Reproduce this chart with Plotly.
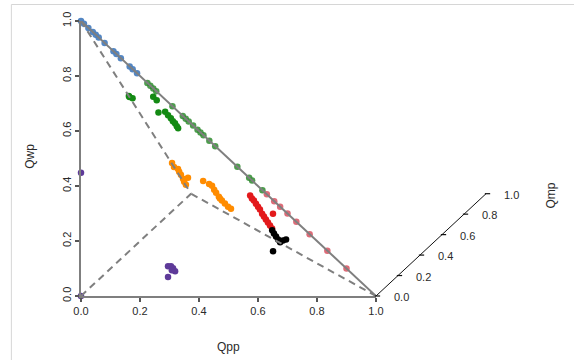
import plotly.graph_objects as go

# Page offset of one unit along the depth (Qmp) axis, in units of the Qpp / Qwp axes
DEPTH_X = 0.373
DEPTH_Y = 0.372


def project(qpp, qwp, qmp):
    """Oblique projection of (Qpp, Qwp, Qmp) onto the page plane."""
    x = [p + DEPTH_X * m for p, m in zip(qpp, qmp)]
    y = [w + DEPTH_Y * m for w, m in zip(qwp, qmp)]
    return x, y


# ---- data -------------------------------------------------------------
# points on the Qpp-Qwp edge (Qmp = 0)
blue_qpp = [0.00, 0.01, 0.025, 0.04, 0.05, 0.06, 0.08, 0.11, 0.12, 0.135, 0.165, 0.175, 0.19]
blue_qwp = [1.00, 0.99, 0.975, 0.96, 0.95, 0.94, 0.92, 0.89, 0.88, 0.865, 0.835, 0.825, 0.81]
blue_qmp = [0, 0, 0, 0, 0, 0, 0, 0, 0, 0, 0, 0, 0]

green_edge_qpp = [0.225, 0.235, 0.245, 0.255, 0.31, 0.345, 0.355, 0.365, 0.38,
                  0.395, 0.405, 0.415, 0.435, 0.455, 0.53, 0.57, 0.58, 0.615]
green_edge_qwp = [0.775, 0.765, 0.755, 0.745, 0.69, 0.655, 0.645, 0.635, 0.62,
                  0.605, 0.595, 0.585, 0.565, 0.545, 0.47, 0.43, 0.42, 0.385]
green_edge_qmp = [0, 0, 0, 0, 0, 0, 0, 0, 0, 0, 0, 0, 0, 0, 0, 0, 0, 0]

red_edge_qpp = [0.63, 0.655, 0.675, 0.70, 0.73, 0.775, 0.835, 0.90]
red_edge_qwp = [0.37, 0.345, 0.325, 0.30, 0.27, 0.225, 0.165, 0.10]
red_edge_qmp = [0, 0, 0, 0, 0, 0, 0, 0]

# interior points
green_qpp = [0.00, 0.00, 0.02, 0.20, 0.21, 0.16, 0.22, 0.225, 0.233, 0.234, 0.241, 0.24, 0.24]
green_qwp = [0.565, 0.56, 0.565, 0.68, 0.665, 0.565, 0.605, 0.587, 0.575, 0.558, 0.551, 0.533, 0.521]
green_qmp = [0.435, 0.44, 0.415, 0.12, 0.125, 0.275, 0.175, 0.188, 0.192, 0.208, 0.208, 0.227, 0.239]

orange_qpp = [0.005, 0.000, 0.023, 0.016, 0.016, 0.012, 0.005, 0.005, 0.059, 0.169,
              0.203, 0.217, 0.213, 0.214, 0.217, 0.215, 0.221, 0.230, 0.240, 0.254]
orange_qwp = [0.181, 0.155, 0.157, 0.136, 0.119, 0.093, 0.072, 0.055, 0.127, 0.174,
              0.177, 0.174, 0.149, 0.132, 0.111, 0.099, 0.091, 0.079, 0.067, 0.064]
orange_qmp = [0.814, 0.845, 0.820, 0.849, 0.865, 0.895, 0.924, 0.940, 0.814, 0.657,
              0.620, 0.609, 0.639, 0.654, 0.671, 0.686, 0.688, 0.691, 0.693, 0.682]

red_qpp = [0.482, 0.482, 0.488, 0.489, 0.490, 0.491, 0.487, 0.487, 0.488, 0.489, 0.490, 0.491, 0.578]
red_qwp = [0.274, 0.257, 0.249, 0.232, 0.215, 0.199, 0.173, 0.156, 0.140, 0.123, 0.106, 0.089, 0.227]
red_qmp = [0.245, 0.261, 0.263, 0.279, 0.295, 0.310, 0.340, 0.357, 0.372, 0.388, 0.404, 0.420, 0.195]

black_qpp = [0.481, 0.481, 0.482, 0.483, 0.484, 0.519, 0.550, 0.488]
black_qwp = [0.072, 0.055, 0.038, 0.021, 0.005, 0.037, 0.061, 0.000]
black_qmp = [0.448, 0.464, 0.480, 0.496, 0.512, 0.444, 0.389, 0.437]

purple_qpp = [0.295, 0.305, 0.312, 0.319, 0.308, 0.295, 0.0, 0.0]
purple_qwp = [0.108, 0.108, 0.101, 0.090, 0.094, 0.069, 0.448, 0.0]
purple_qmp = [0, 0, 0, 0, 0, 0, 0, 0]

axis_ticks = [0.0, 0.2, 0.4, 0.6, 0.8, 1.0]
axis_tick_text = ["0.0", "0.2", "0.4", "0.6", "0.8", "1.0"]

# simplex vertices (Qpp, Qwp, Qmp)
edge_start_qpp = [0.0, 1.0, 0.0]
edge_start_qwp = [1.0, 0.0, 0.0]
apex = (0.0, 0.0, 1.0)

# ---- styling ------------------------------------------------------------
FONT = "Liberation Sans, Arial, sans-serif"
TXT = "#2a2a2a"
GRAY = "#7f7f7f"

groups = [
    (blue_qpp, blue_qwp, blue_qmp, "#4a7fc0", 0.95),
    (green_edge_qpp, green_edge_qwp, green_edge_qmp, "#2e8b2e", 0.85),
    (red_edge_qpp, red_edge_qwp, red_edge_qmp, "#d23a4a", 0.75),
    (green_qpp, green_qwp, green_qmp, "#138a13", 1.0),
    (orange_qpp, orange_qwp, orange_qmp, "#ff8c00", 1.0),
    (red_qpp, red_qwp, red_qmp, "#e31a1c", 1.0),
    (black_qpp, black_qwp, black_qmp, "#000000", 1.0),
    (purple_qpp, purple_qwp, purple_qmp, "#5e3a99", 1.0),
]

fig = go.Figure()

for qpp, qwp, qmp, color, alpha in groups:
    x, y = project(qpp, qwp, qmp)
    fig.add_trace(go.Scatter(
        x=x, y=y, mode="markers", cliponaxis=False, showlegend=False,
        marker=dict(size=6.5, color=color, opacity=alpha, line=dict(width=0)),
    ))

# dashed edges running back to the Qmp vertex
ax, ay = project([apex[0]], [apex[1]], [apex[2]])
for sp, sw in zip(edge_start_qpp, edge_start_qwp):
    sx, sy = project([sp], [sw], [0.0])
    fig.add_trace(go.Scatter(
        x=[sx[0], ax[0]], y=[sy[0], ay[0]], mode="lines", showlegend=False,
        line=dict(color=GRAY, width=2, dash="7px,5px"),
    ))

# solid Qpp-Qwp edge
hx, hy = project([0.0, 1.0], [1.0, 0.0], [0.0, 0.0])
fig.add_trace(go.Scatter(
    x=hx, y=hy, mode="lines", showlegend=False, cliponaxis=False,
    line=dict(color=GRAY, width=2),
))

# ---- depth axis (Qmp), drawn at Qpp = 1, Qwp = 0 ---------------------------
shapes = []
bx, by = project([1.0] * len(axis_ticks), [0.0] * len(axis_ticks), axis_ticks)
shapes.append(dict(type="line", xref="paper", yref="paper",
                   x0=bx[0], y0=by[0], x1=bx[-1], y1=by[-1],
                   line=dict(color="#111111", width=1)))
annotations = []
for tx, ty, lab in zip(bx, by, axis_tick_text):
    shapes.append(dict(type="line", xref="paper", yref="paper",
                       x0=tx - 0.004, y0=ty, x1=tx + 0.014, y1=ty,
                       line=dict(color="#111111", width=1.2)))
    annotations.append(dict(x=tx + 0.088, y=ty - 0.004, xref="paper", yref="paper",
                            text=lab, showarrow=False, xanchor="center", yanchor="middle",
                            font=dict(family=FONT, size=11, color=TXT)))
annotations.append(dict(x=1.593, y=0.365, xref="paper", yref="paper", text="Qmp",
                        showarrow=False, textangle=-90, xanchor="center", yanchor="middle",
                        font=dict(family=FONT, size=12, color=TXT)))
annotations.append(dict(x=0.5, y=-0.184, xref="paper", yref="paper", text="Qpp",
                        showarrow=False, xanchor="center", yanchor="middle",
                        font=dict(family=FONT, size=12, color=TXT)))
annotations.append(dict(x=-0.173, y=0.51, xref="paper", yref="paper", text="Qwp",
                        showarrow=False, textangle=-90, xanchor="center", yanchor="middle",
                        font=dict(family=FONT, size=12, color=TXT)))

# light frame around the figure
shapes.append(dict(type="line", xref="paper", yref="paper", x0=-0.236, y0=-0.25,
                   x1=-0.236, y1=1.06, line=dict(color="#d6d6d6", width=1)))
shapes.append(dict(type="line", xref="paper", yref="paper", x0=-0.236, y0=1.06,
                   x1=1.70, y1=1.06, line=dict(color="#d6d6d6", width=1)))

axis_common = dict(
    range=[0, 1], showgrid=False, zeroline=False, showline=True,
    linecolor=GRAY, linewidth=2, ticks="outside", ticklen=4, tickwidth=1.5,
    tickcolor="#555555", tickvals=axis_ticks, ticktext=axis_tick_text,
    tickfont=dict(family=FONT, size=11, color=TXT),
)

fig.update_layout(
    width=574, height=360, autosize=False,
    margin=dict(l=81, r=198, t=19, b=64, pad=0),
    paper_bgcolor="white", plot_bgcolor="white",
    xaxis=dict(**axis_common),
    yaxis=dict(**axis_common, tickangle=-90),
    shapes=shapes, annotations=annotations,
    showlegend=False,
)

fig.write_html("out.html")
